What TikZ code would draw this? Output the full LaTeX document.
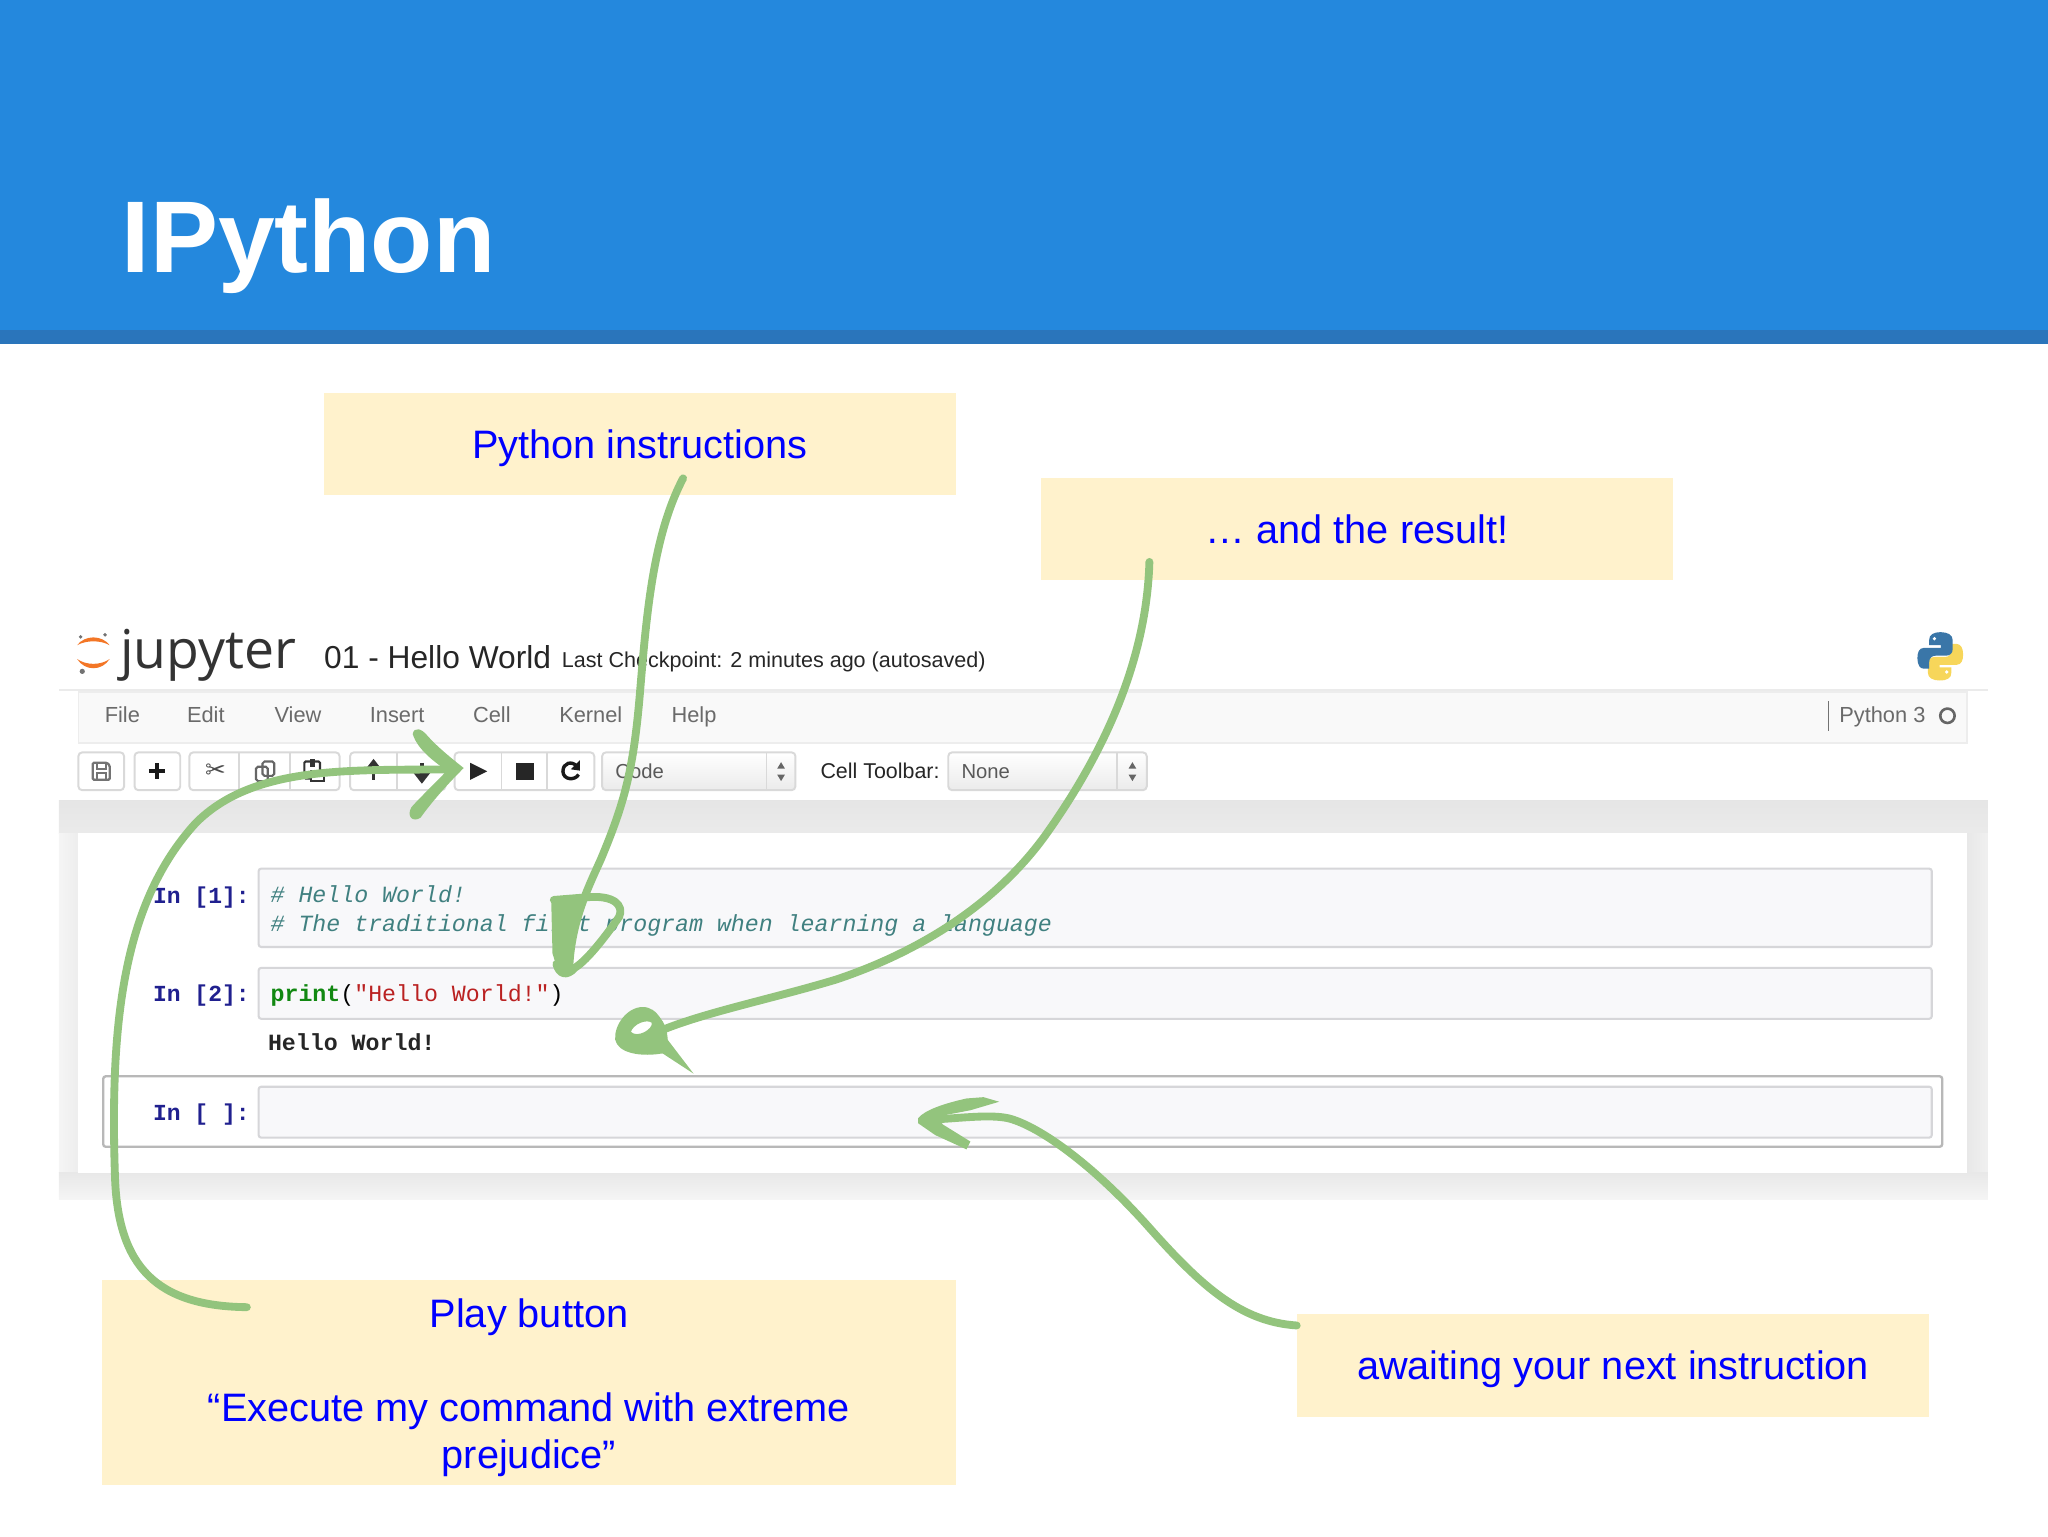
\documentclass[tikz,border=0pt]{standalone}
\usepackage{fontspec}
\setmainfont{Liberation Sans}
\newfontfamily\jupfont{Open Sans}
\newfontfamily\codefont{Liberation Mono}
\newfontfamily\dejafont{DejaVu Sans}
\definecolor{hdr}{HTML}{2488DD}
\definecolor{hdrdark}{HTML}{2A75BB}
\definecolor{noteyellow}{HTML}{FFF2CC}
\definecolor{annot}{HTML}{0000FF}
\definecolor{arrowgreen}{HTML}{93C47D}
\definecolor{cellborder}{HTML}{D6D6D9}
\definecolor{cellfill}{HTML}{F8F8FA}
\definecolor{promptblue}{HTML}{20208F}
\definecolor{commentc}{HTML}{408080}
\definecolor{greenc}{HTML}{118811}
\definecolor{redc}{HTML}{BA2121}
\definecolor{menugray}{HTML}{6A6A6A}
\definecolor{iconc}{HTML}{333333}
\definecolor{pyblue}{HTML}{3A76A8}
\definecolor{pyyellow}{HTML}{F7D65A}
\definecolor{jorange}{HTML}{F37626}
\tikzset{
  note/.style={fill=noteyellow,draw=none,text=annot,font=\fontsize{30.4}{36}\selectfont,align=center,inner sep=0pt},
  noteline/.style={note,text height=30pt,text depth=8pt},
  greenline/.style={draw=arrowgreen,line width=6pt,line cap=round,line join=round},
  cellbox/.style={draw=cellborder,fill=cellfill,line width=1.6pt,rounded corners=2pt},
  tbtn/.style={draw=black!15,fill=white,line width=1.5pt,rounded corners=3pt},
  divline/.style={draw=black!15,line width=1.2pt},
  menu/.style={anchor=base west,text=menugray,font=\fontsize{16.7}{20}\selectfont,inner sep=0pt},
  prompt/.style={anchor=base west,text=promptblue,font=\codefont\bfseries\fontsize{17.6}{20}\selectfont,inner sep=0pt},
  code/.style={anchor=base west,font=\codefont\fontsize{17.8}{20}\selectfont,inner sep=0pt},
  plain/.style={anchor=base west,inner sep=0pt,text=black!85},
  iconline/.style={draw=iconc,line width=1.8pt},
}
\begin{document}
\begin{tikzpicture}[x=1pt,y=-1pt]
\useasboundingbox (0,0) rectangle (1568,1176);
% header
\fill[hdr] (0,0) rectangle (1568,253);
\fill[hdrdark] (0,253) rectangle (1568,263);
\node[anchor=base west,inner sep=0pt,text=white,font=\bfseries\fontsize{78}{80}\selectfont] (title) at (93,209) {IPython};
% notebook frame
\fill[white] (45,528) rectangle (1522,613);
\draw[black!8,line width=1.5pt] (45,528) -- (1522,528);
\shade[top color=black!10,bottom color=black!8] (45,613) rectangle (1522,638);
\shade[left color=black!4,right color=black!7] (45,638) rectangle (60,898);
\shade[left color=black!9,right color=black!6] (1506,638) rectangle (1522,898);
\shade[top color=black!9,bottom color=black!4] (45,898) rectangle (1522,918);
\fill[white] (60,638) rectangle (1506,898);
% menu bar
\draw[draw=black!7,fill=black!2.5,line width=1.2pt] (60,530) rectangle (1506,569);
\node[menu] (mfile) at (80,553) {File};
\node[menu] (medit) at (143,553) {Edit};
\node[menu] (mview) at (210,553) {View};
\node[menu] (minsert) at (283,553) {Insert};
\node[menu] (mcell) at (362,553) {Cell};
\node[menu] (mkernel) at (428,553) {Kernel};
\node[menu] (mhelp) at (514,553) {Help};
\draw[black!55,line width=1.2pt] (1400,537) -- (1400,560);
\node[menu] (kern) at (1408,553) {Python 3};
\draw[black!60,line width=2pt] (1491,548) circle (5.5);
% header text
\node[anchor=base west,inner sep=0pt,text=black!80,font=\jupfont\fontsize{41}{44}\selectfont] (jup) at (92,512) {jupyter};
\node[plain,font=\fontsize{24.3}{28}\selectfont] (nbname) at (248,512) {01 - Hello World};
\node[plain,font=\fontsize{16.5}{20}\selectfont] (ckpt) at (430,511) {Last Checkpoint: 2 minutes ago (autosaved)};
% jupyter logo
\fill[jorange] (59,494) .. controls (65,486) and (78,486) .. (84,494) .. controls (77,490) and (66,490) .. (59,494) -- cycle;
\fill[jorange] (59,504.5) .. controls (65,514) and (78,514) .. (84,504.5) .. controls (77,509.5) and (66,509.5) .. (59,504.5) -- cycle;
\fill[black!55] (61.7,487.6) circle (1.5) (63,514) circle (2) (80.4,486) circle (1.5);
% python logo
\def\snake{(1486,484) .. controls (1480,484) and (1477,486) .. (1477,490) -- (1477,494) -- (1486,494) -- (1486,496) -- (1473,496) .. controls (1469,496) and (1468,500) .. (1468,504) .. controls (1468,509) and (1470,512) .. (1473,512) -- (1477,512) -- (1477,507) .. controls (1477,504) and (1479,502) .. (1482,502) -- (1490,502) .. controls (1493,502) and (1495,500) .. (1495,497) -- (1495,490) .. controls (1495,486) and (1491,484) .. (1486,484) -- cycle}
\fill[pyyellow] [rotate around={180:(1485.5,502.5)}] \snake;
\fill[white] (1490.5,514.5) circle (1.4);
\fill[pyblue] \snake;
\fill[white] (1481,489) circle (1.4);
% toolbar buttons
\draw[tbtn] (60,576) rectangle (95,605);
\draw[tbtn] (103,576) rectangle (138,605);
\draw[tbtn] (145,576) rectangle (260,605);
\draw[divline] (183,576) -- (183,605) (222,576) -- (222,605);
\draw[tbtn] (268,576) rectangle (341,605);
\draw[divline] (304,576) -- (304,605);
\draw[tbtn] (348,576) rectangle (455,605);
\draw[divline] (384,576) -- (384,605) (419,576) -- (419,605);
\shade[top color=white,bottom color=black!8,rounded corners=3pt] (461,576) rectangle (609,605);
\draw[tbtn,fill=none] (461,576) rectangle (609,605);
\draw[divline] (587,576) -- (587,605);
\shade[top color=white,bottom color=black!8,rounded corners=3pt] (726,576) rectangle (878,605);
\draw[tbtn,fill=none] (726,576) rectangle (878,605);
\draw[divline] (855,576) -- (855,605);
% toolbar icons
\draw[draw=black!55,line width=1.8pt,rounded corners=1pt] (71,584) -- (82,584) -- (84,586) -- (84,597) -- (71,597) -- cycle;
\draw[draw=black!55,line width=1.4pt] (74,584) rectangle (81,589) (74,592) rectangle (81,597);
\draw[black!90,line width=3.2pt] (114,590.5) -- (126,590.5) (120,584.5) -- (120,596.5);
\node[inner sep=0pt,text=black!70,font=\dejafont\fontsize{19}{20}\selectfont] (scissors) at (165,590.5) {✂};
\draw[black!60,line width=1.6pt,rounded corners=1.5pt] (196,587) rectangle (205,598) (201,583) rectangle (210,594);
\draw[iconline,line width=1.6pt,rounded corners=1pt] (233,583) rectangle (245,596);
\fill[iconc] (237,581) rectangle (241,587);
\fill[white] (238,590) rectangle (248,598);
\draw[iconline,line width=1.6pt] (238,590) rectangle (248,598);
\draw[iconc,line width=2.6pt] (286,584) -- (286,597);
\fill[iconc] (286,581) -- (293,590) -- (279,590) -- cycle;
\draw[iconc,line width=2.6pt] (323,584) -- (323,597);
\fill[iconc] (323,600) -- (330,591) -- (316,591) -- cycle;
\fill[black!85] (360,584) -- (373,590.5) -- (360,597) -- cycle;
\fill[black!85] (395,584) rectangle (409,597);
\draw[black!90,line width=2.6pt] (442,587) .. controls (438,582) and (431,584) .. (431,590.5) .. controls (431,597) and (440,598) .. (443,593);
\fill[black!90] (444,582) -- (444,590) -- (437,589) -- cycle;
\node[menu,text=black!65,font=\fontsize{15.5}{18}\selectfont] (codesel) at (471,596) {Code};
\fill[black!60] (598,583.5) -- (601,588.5) -- (595,588.5) -- cycle (598,598) -- (601,593) -- (595,593) -- cycle;
\node[plain,font=\fontsize{16.4}{18}\selectfont] (celltb) at (628,596) {Cell Toolbar:};
\node[menu,text=black!65,font=\fontsize{15.5}{18}\selectfont] (nonesel) at (736,596) {None};
\fill[black!60] (867,583.5) -- (870,588.5) -- (864,588.5) -- cycle (867,598) -- (870,593) -- (864,593) -- cycle;
% cells
\draw[cellbox] (198,665) rectangle (1479,725);
\draw[cellbox] (198,741) rectangle (1479,780);
\draw[draw=black!28,fill=white,line width=1.8pt,rounded corners=2pt] (79,824) rectangle (1487,878);
\draw[cellbox] (198,832) rectangle (1479,871);
\node[prompt] (p1) at (117,692) {In [1]:};
\node[prompt] (p2) at (117,767) {In [2]:};
\node[prompt] (p3) at (117,858) {In [ ]:};
\node[code,text=commentc,font=\codefont\itshape\fontsize{17.8}{20}\selectfont] (c1) at (207,691) {\# Hello World!};
\node[code,text=commentc,font=\codefont\itshape\fontsize{17.8}{20}\selectfont] (c2) at (207,713) {\# The traditional first program when learning a language};
\node[code] (c3) at (207,767) {\textcolor{greenc}{\bfseries print}\textcolor{black}{(}\textcolor{redc}{"Hello World!"}\textcolor{black}{)}};
\node[code,font=\codefont\bfseries\fontsize{17.8}{20}\selectfont,text=black!85] (out) at (205,804) {Hello World!};
% note boxes
\node[noteline,minimum width=484pt,minimum height=78pt] (notepy) at (490,340) {Python instructions};
\node[noteline,minimum width=484pt,minimum height=78pt] (noteres) at (1039,405) {… and the result!};
\node[note,minimum width=654pt,minimum height=157pt] (noteplay) at (405,1058.5) {\rule{0pt}{30pt}Play button\\[36pt]“Execute my command with extreme\\prejudice”};
\node[noteline,minimum width=484pt,minimum height=79pt] (notewait) at (1235,1045.5) {awaiting your next instruction};
% connector ends
\coordinate (s1) at ([xshift=33pt,yshift=13pt]notepy.south);
\coordinate (e1) at (436,738);
\coordinate (s2) at ([xshift=-159pt,yshift=14pt]noteres.south);
\coordinate (e2) at (506,789);
\coordinate (s3) at ([xshift=-216pt,yshift=-21pt]noteplay.north);
\coordinate (e3) at (350,589);
\coordinate (s4) at ([yshift=-9pt]notewait.north west);
\coordinate (e4) at (712,857);
% arrow 1
\draw[greenline] (s1) .. controls (500,410) and (495,470) .. (490,530) .. controls (485,590) and (478,615) .. (460,658) .. controls (450,680) and (438,705) .. (e1);
\fill[arrowgreen] (422,688) -- (444,688) -- (437,720) -- (437,742) -- (428,746) -- (423,730) -- cycle;
\draw[greenline] (424,689) -- (449,687) .. controls (470,685) and (478,693) .. (474,702) .. controls (465,715) and (450,735) .. (440,741) .. controls (434,748) and (428,746) .. (426,738);
% arrow 2
\draw[greenline] (s2) .. controls (878,500) and (850,570) .. (800,640) .. controls (760,695) and (700,730) .. (640,750) .. controls (590,765) and (540,775) .. (e2);
\fill[arrowgreen,even odd rule] (492,771) .. controls (480,771) and (470,785) .. (471,796) .. controls (473,806) and (490,810) .. (510,806) .. controls (513,795) and (510,785) .. (506,780) .. controls (502,774) and (498,771) .. (492,771) -- cycle
  (483,790) .. controls (485,784) and (495,780) .. (499,783) .. controls (500,788) and (488,795) .. (483,790) -- cycle;
\fill[arrowgreen] (505,788) -- (531,822) -- (505,805) -- cycle;
% arrow 3
\draw[greenline] (s3) .. controls (120,1000) and (90,970) .. (88,900) .. controls (84,780) and (95,690) .. (150,630) .. controls (195,585) and (270,590) .. (e3);
\fill[arrowgreen] (316,562) .. controls (317,556) and (323,558) .. (327,563) .. controls (335,572) and (345,580) .. (355,588) -- (345,592) .. controls (335,585) and (320,575) .. (316,562) -- cycle;
\fill[arrowgreen] (355,588) .. controls (345,598) and (332,612) .. (322,626) .. controls (316,630) and (311,625) .. (315,618) .. controls (322,610) and (335,598) .. (343,589) -- cycle;
% arrow 4
\draw[greenline] (s4) .. controls (950,1012) and (920,985) .. (880,940) .. controls (840,895) and (800,865) .. (775,857) .. controls (760,852) and (730,857) .. (e4);
\fill[arrowgreen] (703,856) .. controls (708,850) and (722,845) .. (740,841) -- (753,840) -- (765,843.5) -- (743,850) -- (717,855) -- (722,861) -- (743,874) -- (740,880) -- (716,869) -- (703,860) -- cycle;
\end{tikzpicture}
\end{document}
